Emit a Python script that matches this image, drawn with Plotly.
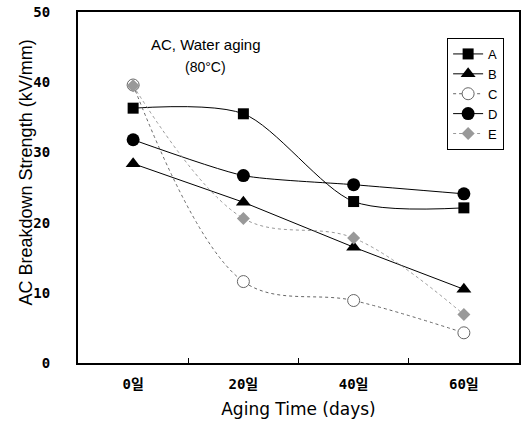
import plotly.graph_objects as go

categories = ["0일", "20일", "40일", "60일"]
series_names = ["A", "B", "C", "D", "E"]
a_vals = [36.3, 35.5, 23.0, 22.1]
b_vals = [28.4, 22.9, 16.5, 10.5]
c_vals = [39.6, 11.6, 8.9, 4.3]
d_vals = [31.8, 26.7, 25.4, 24.1]
e_vals = [39.5, 20.6, 17.8, 6.9]
y_ticks = [0, 10, 20, 30, 40, 50]

fig = go.Figure()

styles = [
    (a_vals, dict(symbol="square", size=11, color="black"), dict(color="black", width=1, shape="spline", smoothing=0.8)),
    (b_vals, dict(symbol="triangle-up", size=13, color="black"), dict(color="black", width=1, shape="linear")),
    (c_vals, dict(symbol="circle", size=12, color="white", line=dict(color="#666", width=1)), dict(color="#666", width=1, dash="dot", shape="spline")),
    (d_vals, dict(symbol="circle", size=13, color="black"), dict(color="black", width=1, shape="spline", smoothing=0.6)),
    (e_vals, dict(symbol="diamond", size=10, color="#999"), dict(color="#999", width=1, dash="dot", shape="spline")),
]
for name, (vals, mk, ln) in zip(series_names, styles):
    fig.add_trace(go.Scatter(x=categories, y=vals, name=name, mode="lines+markers",
                             marker=mk, line=ln))

tick_font = dict(family="DejaVu Sans Mono, Noto Sans CJK KR", size=14, color="black", weight="bold")

fig.update_layout(
    width=527, height=422,
    margin=dict(l=78, r=8, t=12, b=59, autoexpand=False),
    paper_bgcolor="white", plot_bgcolor="white",
    showlegend=True,
    legend=dict(x=0.837, y=0.926, xanchor="left", yanchor="top",
                bordercolor="black", borderwidth=1, bgcolor="white",
                font=dict(family="Liberation Sans", size=13, color="black"),
                itemwidth=30, tracegroupgap=0),
    annotations=[
        dict(text="AC, Water aging", x=0.29, y=0.906, xref="paper", yref="paper",
             xanchor="center", yanchor="middle",
             showarrow=False, font=dict(family="Liberation Sans", size=15, color="black")),
        dict(text="(80°C)", x=0.29, y=0.843, xref="paper", yref="paper",
             xanchor="center", yanchor="middle",
             showarrow=False, font=dict(family="Liberation Sans", size=14, color="black")),
        dict(text="AC Breakdown Strength (kV/mm)", x=-0.117, y=0.544, xref="paper", yref="paper",
             textangle=-90, showarrow=False, xanchor="center", yanchor="middle",
             font=dict(family="Liberation Sans", size=18, color="black")),
    ],
)
fig.update_xaxes(
    type="category", range=[-0.5, 3.5], automargin=False,
    showline=True, linecolor="black", linewidth=2, mirror=True,
    showgrid=False, zeroline=False,
    tickson="boundaries", ticks="inside", ticklen=5, tickcolor="black",
    tickfont=tick_font, ticklabelstandoff=7,
    title=dict(text="Aging Time (days)", standoff=12,
               font=dict(family="DejaVu Sans", size=17, color="black")),
)
fig.update_yaxes(
    range=[0, 50], tickvals=y_ticks, automargin=False,
    showline=True, linecolor="black", linewidth=2, mirror=True,
    showgrid=False, zeroline=False, ticks="",
    tickfont=tick_font, ticklabelstandoff=23,
)

fig.write_html("out.html", post_script="document.body.style.margin='0';",
               config={"displayModeBar": False})
